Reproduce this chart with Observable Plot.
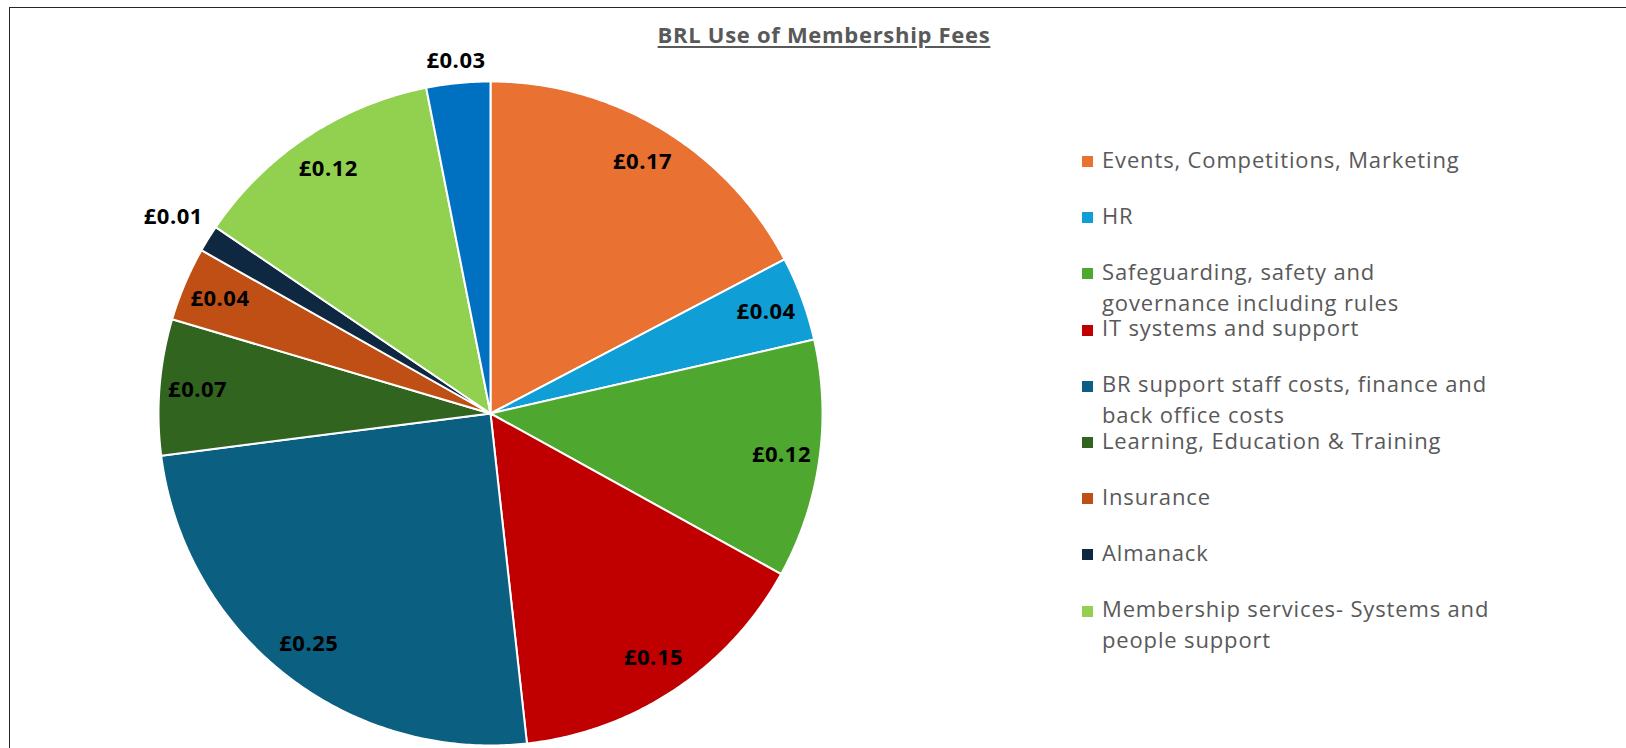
<!DOCTYPE html>
<html><head><meta charset="utf-8">
<script src="https://cdn.jsdelivr.net/npm/d3@7"></script>
<script src="https://cdn.jsdelivr.net/npm/@observablehq/plot@0.6"></script>
<style>
html,body{margin:0;padding:0;background:#fff;}
#wrap{position:relative;width:1626px;height:748px;overflow:hidden;font-family:"Open Sans",sans-serif;}
#chart{position:absolute;left:0;top:0;}
#frame{position:absolute;left:9px;top:7px;width:2000px;height:1000px;border-top:1.5px solid #262626;border-left:1.5px solid #262626;box-sizing:border-box;}
#title{position:absolute;left:824px;top:20px;transform:translateX(-50%);font-size:22px;letter-spacing:0.7px;line-height:28px;font-weight:700;color:#595959;text-decoration:underline;text-underline-offset:3px;white-space:nowrap;}
#legend{position:absolute;left:1082px;top:0;}
.item{position:absolute;left:0;display:flex;align-items:flex-start;white-space:pre;}
.sw{width:11px;height:11px;margin-top:9.5px;margin-right:9px;flex:none;}
.lab{font-size:22px;letter-spacing:0.85px;color:#595959;}
.ln{line-height:24px;height:24px;}
.ln + .ln{margin-top:7px;}
</style></head><body>
<div id="wrap"><div id="chart"></div><div id="frame"></div><div id="title"></div><div id="legend"></div></div>
<script>
const title = "BRL Use of Membership Fees";
const categories = [
  "Events, Competitions, Marketing",
  "HR",
  "Safeguarding, safety and\ngovernance including rules",
  "IT systems and support",
  "BR support staff costs, finance and\nback office costs",
  "Learning, Education & Training",
  "Insurance",
  "Almanack",
  "Membership services- Systems and\npeople support",
  "Other"
];
const values = [0.173, 0.041, 0.116, 0.152, 0.247, 0.066, 0.036, 0.013, 0.124, 0.031];
const colors = ["#E97132", "#0F9ED5", "#4EA72E", "#C00000", "#0B5F80", "#31641E", "#C04F15", "#0E2841", "#92D050", "#0070C0"];
const legendShown = 9;

const R = 332; // pie radius in px (scale range half-width)
const total = d3.sum(values);
let acc = 0;
const slices = values.map((v, i) => {
  const a0 = acc / total * 2 * Math.PI;
  acc += v;
  const a1 = acc / total * 2 * Math.PI;
  return {name: categories[i], value: v, a0, a1, mid: (a0 + a1) / 2};
});

// polygon points for each wedge (data space: unit circle)
const pts = [];
for (const s of slices) {
  pts.push({name: s.name, x: 0, y: 0});
  const n = Math.max(4, Math.ceil((s.a1 - s.a0) / (Math.PI / 360)));
  for (let k = 0; k <= n; k++) {
    const a = s.a0 + (s.a1 - s.a0) * k / n;
    pts.push({name: s.name, x: Math.sin(a), y: Math.cos(a)});
  }
  pts.push({name: s.name, x: 0, y: 0});
}

const fmt = v => "£" + v.toFixed(2);
const labels = slices.map(s => {
  const outside = s.value < 0.033;
  let r;
  if (outside) {
    const halfExt = 30 * Math.abs(Math.sin(s.mid)) + 8 * Math.abs(Math.cos(s.mid));
    r = 1 + (11.5 + halfExt) / R;
  } else {
    r = 0.885;
  }
  return {text: fmt(s.value), x: r * Math.sin(s.mid), y: r * Math.cos(s.mid)};
});

const plot = Plot.plot({
  width: 1626,
  height: 748,
  marginLeft: 490 - R,
  marginRight: 1626 - 490 - R,
  marginTop: 81,
  marginBottom: 3,
  x: {domain: [-1, 1], axis: null},
  y: {domain: [-1, 1], axis: null},
  color: {domain: categories, range: colors},
  style: {background: "transparent", fontFamily: "'Open Sans', sans-serif"},
  marks: [
    Plot.line(pts, {x: "x", y: "y", z: "name", fill: "name", stroke: "white", strokeWidth: 2, strokeLinejoin: "round", curve: "linear"}),
    Plot.text(labels, {x: "x", y: "y", text: "text", fill: "black", fontSize: 22, fontWeight: 700})
  ]
});
plot.querySelectorAll("text").forEach(t => t.style.letterSpacing = "0.5px");
document.getElementById("chart").appendChild(plot);
document.getElementById("title").textContent = title;

const legend = document.getElementById("legend");
for (let i = 0; i < legendShown; i++) {
  const it = document.createElement("div");
  it.className = "item";
  it.style.top = (146.5 + 56.2 * i) + "px";
  const sw = document.createElement("div");
  sw.className = "sw";
  sw.style.background = colors[i];
  const lab = document.createElement("div");
  lab.className = "lab";
  for (const line of categories[i].split("\n")) {
    const ln = document.createElement("div");
    ln.className = "ln";
    ln.textContent = line;
    lab.appendChild(ln);
  }
  it.appendChild(sw); it.appendChild(lab);
  legend.appendChild(it);
}
</script>
</body></html>
